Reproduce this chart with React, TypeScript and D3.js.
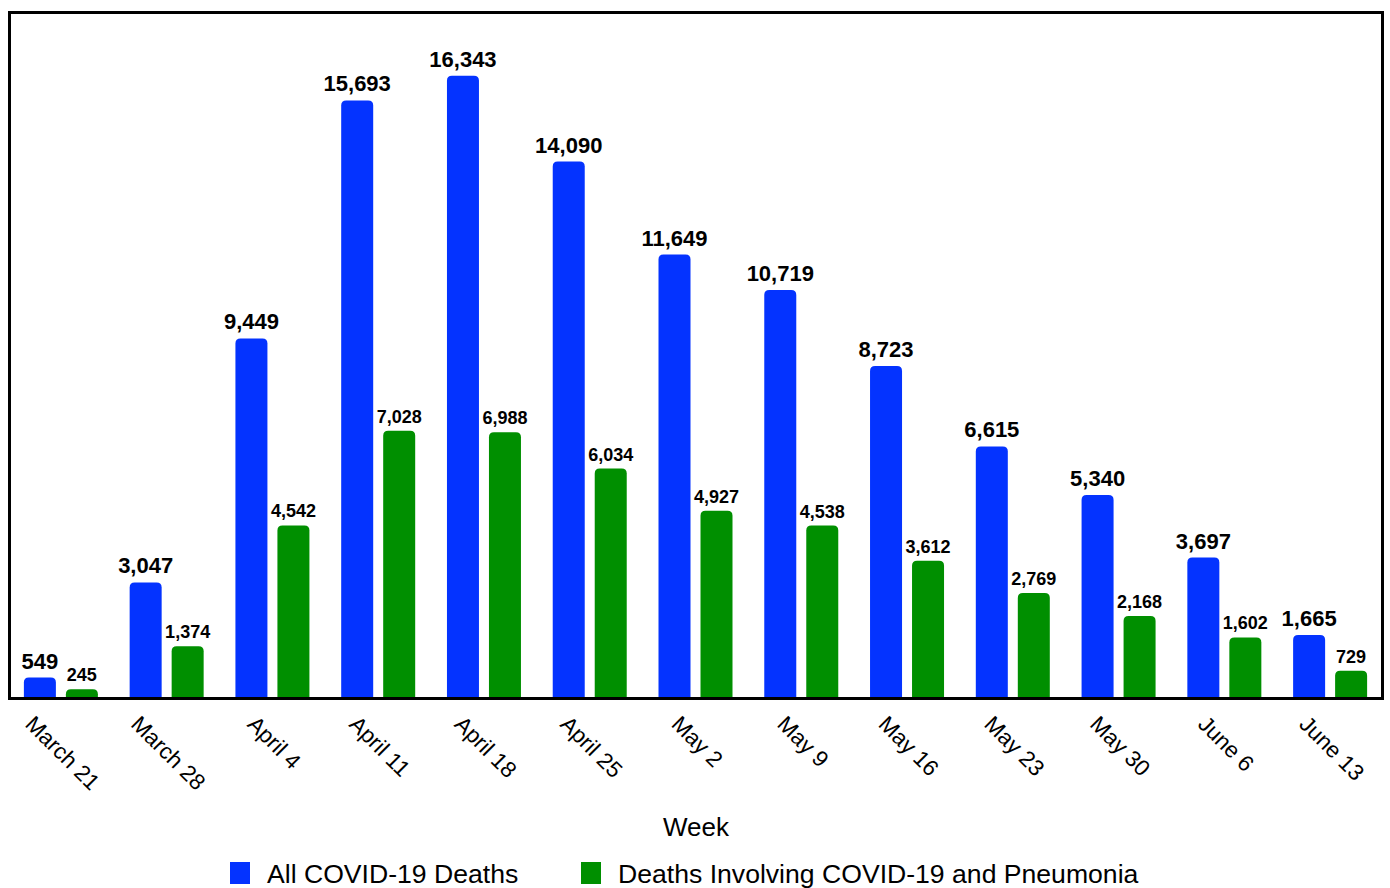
import React, { useEffect, useRef } from 'react';
import * as d3 from 'd3';

const weeks = [
  'March 21', 'March 28', 'April 4', 'April 11', 'April 18', 'April 25',
  'May 2', 'May 9', 'May 16', 'May 23', 'May 30', 'June 6', 'June 13',
];
const allDeaths = [549, 3047, 9449, 15693, 16343, 14090, 11649, 10719, 8723, 6615, 5340, 3697, 1665];
const pneumoniaDeaths = [245, 1374, 4542, 7028, 6988, 6034, 4927, 4538, 3612, 2769, 2168, 1602, 729];
const seriesNames = ['All COVID-19 Deaths', 'Deaths Involving COVID-19 and Pneumonia'];
const seriesColors = ['#0433ff', '#008f00'];

const W = 1390;
const H = 888;
const FONT = '"Liberation Sans", Arial, Helvetica, sans-serif';

// bar with rounded top corners only
const topRounded = (x: number, y: number, w: number, h: number, r: number) => {
  const rr = Math.min(r, h, w / 2);
  return `M${x},${y + h}V${y + rr}Q${x},${y} ${x + rr},${y}H${x + w - rr}Q${x + w},${y} ${x + w},${y + rr}V${y + h}Z`;
};

const App = () => {
  const svgRef = useRef<SVGSVGElement | null>(null);

  useEffect(() => {
    if (!svgRef.current) return;
    const svg = d3.select(svgRef.current);
    svg.selectAll('*').remove();

    const left = 10, right = 1385, top = 12.5, bottom = 698.5;

    const x0 = d3.scaleBand<string>().domain(weeks).range([left, right]).padding(0);
    const x1 = d3.scaleBand<number>().domain([0, 1]).range([0, 74]).paddingInner(0.238).paddingOuter(0);
    const y = d3.scaleLinear().domain([0, 18000]).range([bottom, top]);
    const fmt = d3.format(',');

    const rows = weeks.map((w, i) => ({ week: w, values: [allDeaths[i], pneumoniaDeaths[i]] }));

    const g = svg.append('g');
    const groups = g.selectAll('g.grp').data(rows).join('g')
      .attr('class', 'grp')
      .attr('transform', (d) => `translate(${x0(d.week)! + x0.bandwidth() / 2 - 39},0)`);

    groups.selectAll('path').data((d) => d.values.map((v, k) => ({ v, k }))).join('path')
      .attr('d', (d) => topRounded(x1(d.k)!, y(d.v), x1.bandwidth(), bottom - y(d.v), 5))
      .attr('fill', (d) => seriesColors[d.k]);

    groups.selectAll('text').data((d) => d.values.map((v, k) => ({ v, k }))).join('text')
      .attr('x', (d) => x1(d.k)! + x1.bandwidth() / 2)
      .attr('y', (d) => y(d.v) - (d.k === 0 ? 9 : 8))
      .attr('text-anchor', 'middle')
      .attr('font-family', FONT)
      .attr('font-weight', 'bold')
      .attr('font-size', (d) => (d.k === 0 ? 22 : 18))
      .attr('fill', '#000')
      .text((d) => fmt(d.v));

    // frame
    svg.append('rect')
      .attr('x', 9.5).attr('y', top).attr('width', 1373).attr('height', bottom - top)
      .attr('fill', 'none').attr('stroke', '#000').attr('stroke-width', 3);

    // rotated tick labels: bounding box centred on the category, top at a fixed line
    const tickSize = 22.5;
    const capH = tickSize * 0.716;
    const labelTop = 714;
    const s = Math.SQRT1_2;
    const ticks = svg.append('g');
    weeks.forEach((w) => {
      const t = ticks.append('text')
        .attr('font-family', FONT)
        .attr('font-size', tickSize)
        .attr('fill', '#000')
        .text(w);
      const len = (t.node() as SVGTextElement).getComputedTextLength();
      const cx = x0(w)! + x0.bandwidth() / 2;
      const bx = cx - (s * (len + capH)) / 2;
      const by = labelTop + s * capH;
      t.attr('transform', `translate(${bx},${by}) rotate(45)`);
    });

    svg.append('text')
      .attr('x', 696).attr('y', 836)
      .attr('text-anchor', 'middle')
      .attr('font-family', FONT)
      .attr('font-size', 26)
      .text('Week');

    const legendX = [230, 581];
    const leg = svg.append('g');
    seriesNames.forEach((name, k) => {
      leg.append('rect')
        .attr('x', legendX[k]).attr('y', 862).attr('width', 20).attr('height', 22)
        .attr('fill', seriesColors[k]);
      leg.append('text')
        .attr('x', legendX[k] + 37).attr('y', 883)
        .attr('font-family', FONT)
        .attr('font-size', 26.6)
        .text(name);
    });
  }, []);

  return (
    <svg
      ref={svgRef}
      width={W}
      height={H}
      style={{ position: 'absolute', left: 0, top: 0, background: '#fff' }}
    />
  );
};

export default App;
